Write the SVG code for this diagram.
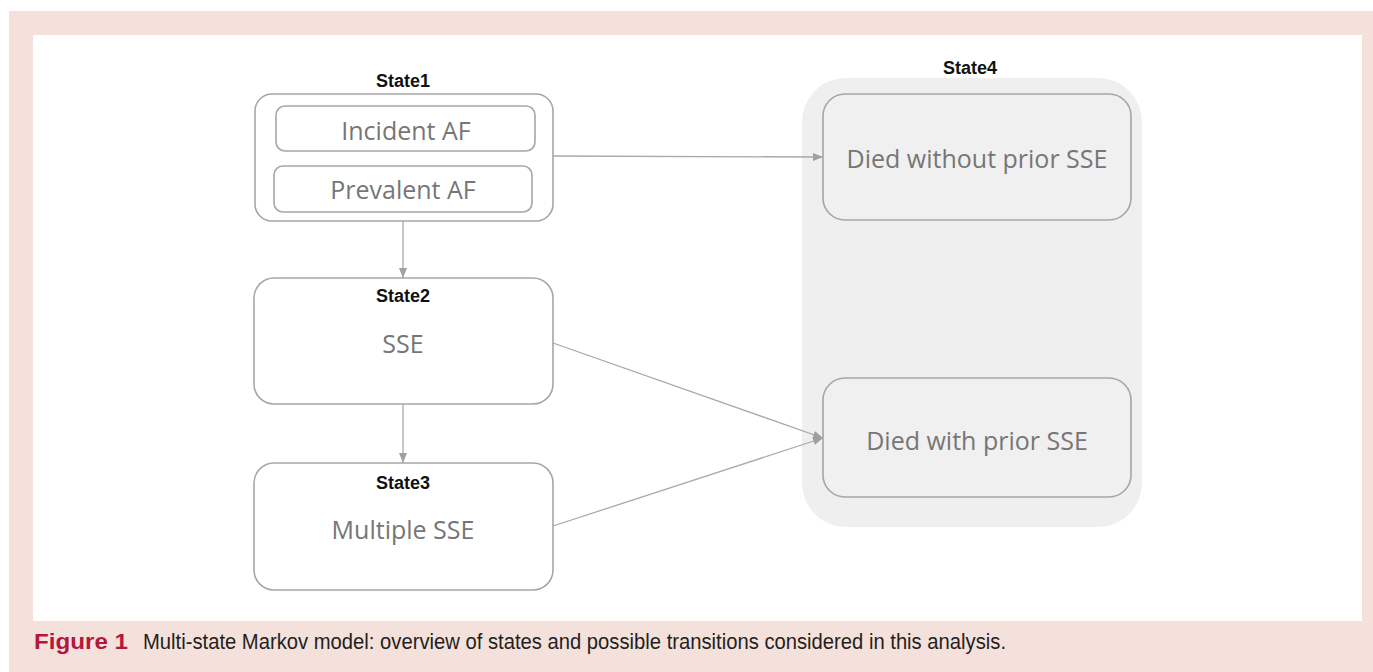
<svg xmlns="http://www.w3.org/2000/svg" width="1373" height="672" viewBox="0 0 1373 672">
<defs>
<style>
.box{fill:#ffffff;stroke:#a6a6a6;stroke-width:1.6}
.dbox{fill:#f0f0f0;stroke:#a6a6a6;stroke-width:1.6}
.lbl{font-family:"Liberation Sans",Arial,sans-serif;font-weight:bold;font-size:18px;fill:#111;text-anchor:middle}
.txt{font-family:"Open Sans","Liberation Sans",sans-serif;font-size:25px;fill:#767676;text-anchor:middle}
.con{fill:none;stroke:#a9a9a9;stroke-width:1.3}
.cap{font-family:"Liberation Sans",Arial,sans-serif;font-size:22px;fill:#231f20}
</style>
<marker id="arr" viewBox="0 0 10 10" refX="10" refY="5" markerWidth="10" markerHeight="10" markerUnits="userSpaceOnUse" orient="auto">
<path d="M0,1 L10,5 L0,9 Z" fill="#a0a0a0"/>
</marker>
</defs>
<rect x="0" y="0" width="1373" height="672" fill="#ffffff"/>
<rect x="9" y="11" width="1364" height="661" fill="#f5e1dc"/>
<rect x="33" y="35" width="1329" height="586" fill="#ffffff"/>

<g id="state4">
<rect x="802" y="78" width="340" height="449" rx="44" fill="#efefef"/>
<text class="lbl" x="970" y="74">State4</text>
</g>
<g id="died-without">
<rect class="dbox" x="823" y="94" width="308" height="126" rx="22"/>
<text class="txt" x="977" y="168">Died without prior SSE</text>
</g>
<g id="died-with">
<rect class="dbox" x="823" y="378" width="308" height="119" rx="22"/>
<text class="txt" x="977" y="450">Died with prior SSE</text>
</g>

<g id="state1">
<text class="lbl" x="403" y="87">State1</text>
<rect class="box" x="255" y="94" width="298" height="127" rx="17"/>
</g>
<g id="incident">
<rect class="box" x="276" y="106" width="259" height="45" rx="9"/>
<text class="txt" x="406" y="140">Incident AF</text>
</g>
<g id="prevalent">
<rect class="box" x="274" y="166" width="258" height="46" rx="9"/>
<text class="txt" x="403" y="199">Prevalent AF</text>
</g>
<g id="state2">
<rect class="box" x="254" y="278" width="299" height="126" rx="20"/>
<text class="lbl" x="403" y="302">State2</text>
<text class="txt" x="403" y="353">SSE</text>
</g>
<g id="state3">
<rect class="box" x="254" y="463" width="299" height="127" rx="20"/>
<text class="lbl" x="403" y="489">State3</text>
<text class="txt" x="403" y="539">Multiple SSE</text>
</g>

<g id="connectors">
<line class="con" x1="553" y1="156" x2="823" y2="157" marker-end="url(#arr)"/>
<line class="con" x1="403" y1="221" x2="403" y2="278" marker-end="url(#arr)"/>
<line class="con" x1="403" y1="404" x2="403" y2="463" marker-end="url(#arr)"/>
<line class="con" x1="553" y1="343" x2="823" y2="438" marker-end="url(#arr)"/>
<line class="con" x1="553" y1="526" x2="823" y2="438" marker-end="url(#arr)"/>
</g>

<g id="caption">
<text x="34" y="649" font-family="'Liberation Sans',Arial,sans-serif" font-weight="bold" font-size="22" fill="#b2183d" textLength="94" lengthAdjust="spacingAndGlyphs">Figure 1</text>
<text class="cap" x="143" y="649" textLength="863" lengthAdjust="spacingAndGlyphs">Multi-state Markov model: overview of states and possible transitions considered in this analysis.</text>
</g>
</svg>
